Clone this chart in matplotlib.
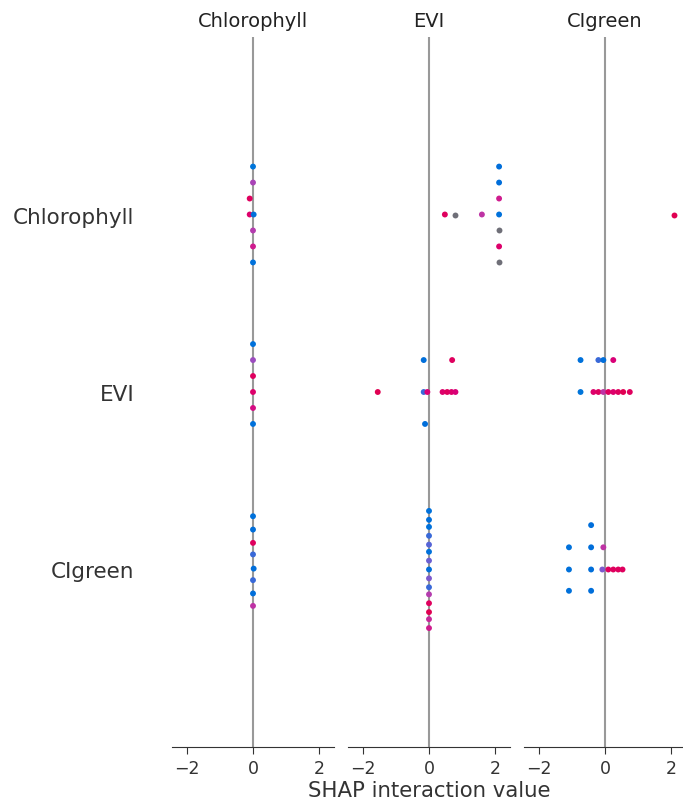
import numpy as np
import matplotlib
matplotlib.use("Agg")
import matplotlib.pyplot as plt
from matplotlib.colors import ListedColormap

features = ["Chlorophyll", "EVI", "CIgreen"]
row_pos = [2, 1, 0]
xticks = [-2, 0, 2]
nan = float("nan")  # missing feature value -> drawn grey

# ---- column Chlorophyll ----
chl_chl_x = [0, 0, -0.1, -0.1, 0.02, 0, 0, 0]
chl_chl_dy = [0.27, 0.18, 0.09, 0, 0, -0.09, -0.18, -0.27]
chl_chl_c = [0.05, 0.5, 0.9, 0.85, 0.1, 0.55, 0.7, 0.1]

chl_evi_x = [0, 0, 0, 0, 0, 0]
chl_evi_dy = [0.27, 0.18, 0.09, 0, -0.09, -0.18]
chl_evi_c = [0.1, 0.45, 0.9, 0.85, 0.75, 0.1]

chl_cig_x = [0, 0, 0, 0, 0.02, 0, 0, 0]
chl_cig_dy = [0.30, 0.225, 0.15, 0.085, 0.005, -0.06, -0.135, -0.205]
chl_cig_c = [0.1, 0.15, 0.9, 0.2, 0.15, 0.2, 0.15, 0.6]

# ---- column EVI ----
evi_chl_x = [2.12, 2.12, 2.12, 2.12, 2.12, 2.12, 2.12, 0.48, 0.78, 1.6]
evi_chl_dy = [0.27, 0.18, 0.09, 0, -0.09, -0.18, -0.27, 0, 0, 0]
evi_chl_c = [0.15, 0.15, 0.7, 0.1, nan, 0.85, nan, 0.9, nan, 0.6]

evi_evi_x = [-0.16, 0.7, -1.55, -0.16, -0.05, 0.41, 0.55, 0.68, 0.8, -0.12]
evi_evi_dy = [0.18, 0.18, 0, 0, 0, 0, 0, 0, 0, -0.18]
evi_evi_c = [0.15, 0.9, 0.95, 0.2, 0.8, 0.85, 0.9, 0.85, 0.8, 0.15]

evi_cig_x = [0] * 15
evi_cig_dy = [0.33, 0.28, 0.24, 0.19, 0.14, 0.10, 0.05, 0, -0.05, -0.10,
              -0.14, -0.19, -0.24, -0.28, -0.33]
evi_cig_c = [0.1, 0.15, 0.1, 0.2, 0.25, 0.1, 0.3, 0.15, 0.35, 0.2,
             0.55, 0.9, 0.95, 0.65, 0.7]

# ---- column CIgreen ----
cig_chl_x = [2.09]
cig_chl_dy = [0]
cig_chl_c = [0.95]

cig_evi_x = [-0.74, -0.2, -0.05, 0.25,
             -0.74, -0.35, -0.2, -0.05, 0.1, 0.25, 0.4, 0.55, 0.75]
cig_evi_dy = [0.18, 0.18, 0.18, 0.18, 0, 0, 0, 0, 0, 0, 0, 0, 0]
cig_evi_c = [0.1, 0.2, 0.15, 0.8, 0.05, 0.85, 0.9, 0.6, 0.9, 0.85, 0.9, 0.95, 0.9]

cig_cig_x = [-0.42, -1.09, -0.42, -0.05, -1.09, -0.42, -0.08, 0.1, 0.25, 0.4, 0.53,
             -1.09, -0.42]
cig_cig_dy = [0.25, 0.125, 0.125, 0.125, 0, 0, 0, 0, 0, 0, 0, -0.12, -0.12]
cig_cig_c = [0.15, 0.1, 0.15, 0.6, 0.1, 0.15, 0.35, 0.9, 0.9, 0.9, 0.9, 0.1, 0.15]

panels = [
    [(chl_chl_x, chl_chl_dy, chl_chl_c), (chl_evi_x, chl_evi_dy, chl_evi_c),
     (chl_cig_x, chl_cig_dy, chl_cig_c)],
    [(evi_chl_x, evi_chl_dy, evi_chl_c), (evi_evi_x, evi_evi_dy, evi_evi_c),
     (evi_cig_x, evi_cig_dy, evi_cig_c)],
    [(cig_chl_x, cig_chl_dy, cig_chl_c), (cig_evi_x, cig_evi_dy, cig_evi_c),
     (cig_cig_x, cig_cig_dy, cig_cig_c)],
]


# SHAP-like red_blue colormap (LCh interpolation), slightly darker
def lch2rgb(L, C, h):
    a = C * np.cos(h)
    b = C * np.sin(h)
    fy = (L + 16) / 116
    fx = fy + a / 500
    fz = fy - b / 200

    def finv(t):
        return np.where(t ** 3 > 0.008856, t ** 3, (t - 16 / 116) / 7.787)
    X = 0.95047 * finv(fx)
    Y = 1.0 * finv(fy)
    Z = 1.08883 * finv(fz)
    r = 3.2406 * X - 1.5372 * Y - 0.4986 * Z
    g = -0.9689 * X + 1.8758 * Y + 0.0415 * Z
    bb = 0.0557 * X - 0.2040 * Y + 1.0570 * Z
    rgb = np.stack([r, g, bb], axis=-1)
    rgb = np.clip(rgb, 0, None)
    rgb = np.where(rgb <= 0.0031308, 12.92 * rgb,
                   1.055 * rgb ** (1 / 2.4) - 0.055)
    return np.clip(rgb, 0, 1)


tt = np.linspace(0, 1, 256)
Ls = 47 + 0 * tt
Cs = 62 + (80 - 62) * tt
Hs = 4.6588 + ((0.35470565 + 2 * np.pi) - 4.6588) * tt
red_blue = ListedColormap(lch2rgb(Ls, Cs, Hs))

fig = plt.figure(figsize=(6.83, 8.04), dpi=100)
lefts = [172 / 683, 348 / 683, 524 / 683]
axc = "#333333"

for i, col in enumerate(features):
    ax = fig.add_axes([lefts[i], 56 / 804, 162 / 683, 710 / 804])
    ax.axvline(0, color="#999999", lw=1.5, zorder=-1)
    for j in range(3):
        xs, dys, cs = panels[i][j]
        xs = np.array(xs, dtype=float)
        ys = row_pos[j] + np.array(dys)
        cs = np.array(cs, dtype=float)
        miss = np.isnan(cs)
        if miss.any():
            ax.scatter(xs[miss], ys[miss], color="#6f6f78", s=18,
                       linewidth=0, zorder=3)
        ax.scatter(xs[~miss], ys[~miss], c=cs[~miss], cmap=red_blue, vmin=0,
                   vmax=1, s=18, linewidth=0, zorder=3)
    ax.set_xlim(-2.45, 2.45)
    ax.set_ylim(-1, 3)
    for s in ["top", "right", "left"]:
        ax.spines[s].set_visible(False)
    ax.spines["bottom"].set_color(axc)
    ax.set_xticks(xticks)
    ax.set_xticklabels([f"\u2212{abs(v)}" if v < 0 else str(v) for v in xticks])
    ax.tick_params(axis="x", colors=axc, labelcolor=axc, labelsize=12.5, length=5)
    ax.set_title(col, fontsize=14, color="#222222", pad=8)
    if i == 0:
        ax.set_yticks(row_pos)
        ax.set_yticklabels(features)
        ax.tick_params(axis="y", length=0, labelsize=15.5, labelcolor=axc, pad=27)
    else:
        ax.set_yticks([])
    if i == 1:
        ax.set_xlabel("SHAP interaction value", fontsize=15.3, color=axc, labelpad=2)

fig.savefig("out.png", dpi=100)
